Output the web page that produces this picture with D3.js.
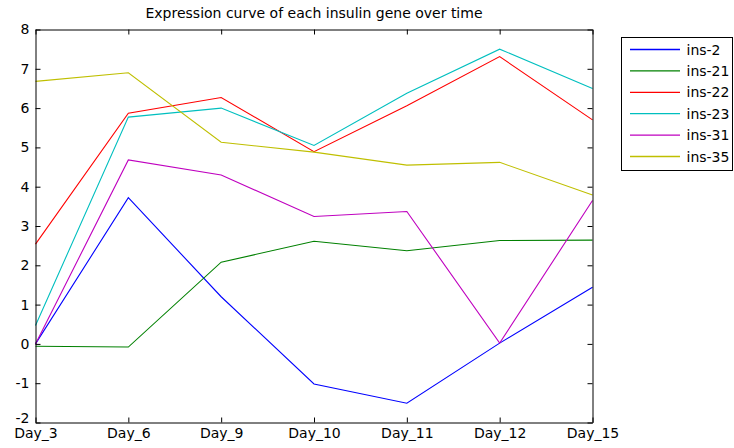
<!DOCTYPE html>
<html>
<head>
<meta charset="utf-8">
<script src="https://cdn.jsdelivr.net/npm/d3@7"></script>
<style>
  html, body { margin: 0; padding: 0; background: #fff; }
  svg { display: block; }
  text { font-family: "DejaVu Sans", sans-serif; fill: #000; }
</style>
</head>
<body>
<svg id="chart" width="734" height="448"></svg>
<script>
const categories = ["Day_3", "Day_6", "Day_9", "Day_10", "Day_11", "Day_12", "Day_15"];
const seriesNames = ["ins-2", "ins-21", "ins-22", "ins-23", "ins-31", "ins-35"];
const ins2  = [0.00, 3.72, 1.20, -1.02, -1.51, 0.02, 1.44];
const ins21 = [-0.06, -0.08, 2.08, 2.61, 2.37, 2.63, 2.64];
const ins22 = [2.54, 5.87, 6.27, 4.89, 6.06, 7.31, 5.70];
const ins23 = [0.47, 5.77, 6.00, 5.05, 6.38, 7.50, 6.50];
const ins31 = [0.00, 4.68, 4.30, 3.24, 3.37, 0.02, 3.65];
const ins35 = [6.68, 6.90, 5.13, 4.88, 4.55, 4.62, 3.79];
const seriesValues = [ins2, ins21, ins22, ins23, ins31, ins35];
const colors = ["#0000ff", "#008000", "#ff0000", "#00bfbf", "#bf00bf", "#bfbf00"];
const yTicks = [-2, -1, 0, 1, 2, 3, 4, 5, 6, 7, 8];
const title = "Expression curve of each insulin gene over time";

const FONT = "DejaVu Sans, sans-serif";
const svg = d3.select("#chart");
const L = 35.5, R = 592.5, T = 29.5, B = 422.5;

const x = d3.scalePoint().domain(categories).range([L, R]);
const y = d3.scaleLinear().domain([-2, 8]).range([B, T]);

// lines
const line = d3.line().x((d, i) => x(categories[i])).y(d => y(d));
const g = svg.append("g");
seriesValues.forEach((vals, k) => {
  g.append("path")
    .attr("d", line(vals))
    .attr("fill", "none")
    .attr("stroke", colors[k])
    .attr("stroke-width", 1.1);
});

// axes (MATLAB style box, inward ticks)
const tickLen = 5;
const axB = d3.axisBottom(x).tickSizeInner(-tickLen).tickSizeOuter(0).tickPadding(6);
const axT = d3.axisTop(x).tickSizeInner(-tickLen).tickSizeOuter(0).tickFormat("");
const axLft = d3.axisLeft(y).tickValues(yTicks).tickSizeInner(-tickLen).tickSizeOuter(0).tickPadding(6).tickFormat(d => String(d));
const axRgt = d3.axisRight(y).tickValues(yTicks).tickSizeInner(-tickLen).tickSizeOuter(0).tickFormat("");

function style(sel) {
  sel.selectAll("path.domain").attr("stroke", "#000").attr("stroke-width", 1);
  sel.selectAll("line").attr("stroke", "#000").attr("stroke-width", 1);
  sel.selectAll("text").attr("font-size", 14).attr("font-family", FONT).attr("fill", "#000");
}
svg.append("g").attr("transform", `translate(0,${B})`).call(axB).call(style);
svg.append("g").attr("transform", `translate(0,${T})`).call(axT).call(style);
const gl = svg.append("g").attr("transform", `translate(${L},0)`).call(axLft).call(style);
// lift the bottom label slightly (as in the reference) so it clears the x labels
gl.selectAll(".tick").filter(d => d === -2).select("text").attr("y", -4);
svg.append("g").attr("transform", `translate(${R},0)`).call(axRgt).call(style);

// title
svg.append("text")
  .attr("x", (L + R) / 2)
  .attr("y", 17.5)
  .attr("text-anchor", "middle")
  .attr("font-size", 14)
  .attr("font-family", FONT)
  .text(title);

// legend
const lg = svg.append("g");
lg.append("rect")
  .attr("x", 621.5).attr("y", 37.5)
  .attr("width", 111).attr("height", 133)
  .attr("fill", "#fff").attr("stroke", "#000").attr("stroke-width", 1);
seriesNames.forEach((name, k) => {
  const yy = 49.5 + k * 21.4;
  lg.append("line")
    .attr("x1", 630).attr("x2", 680)
    .attr("y1", yy).attr("y2", yy)
    .attr("stroke", colors[k]).attr("stroke-width", 1.3);
  lg.append("text")
    .attr("x", 686.5).attr("y", yy)
    .attr("dy", "0.36em")
    .attr("font-size", 14)
    .attr("font-family", FONT)
    .text(name);
});
</script>
</body>
</html>
